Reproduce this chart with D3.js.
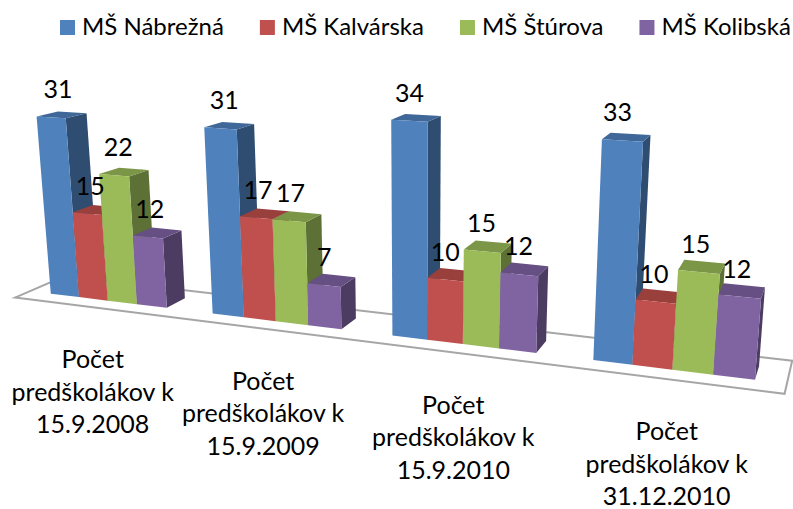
<!DOCTYPE html>
<html>
<head>
<meta charset="utf-8">
<script src="https://cdn.jsdelivr.net/npm/d3@7"></script>
<style>
  body { margin: 0; background: #fff; }
  text { font-family: Lato, "Open Sans", sans-serif; fill: #000; }
</style>
</head>
<body>
<div id="chart"></div>
<script>
const categories = [
  ["Počet", "predškolákov k", "15.9.2008"],
  ["Počet", "predškolákov k", "15.9.2009"],
  ["Počet", "predškolákov k", "15.9.2010"],
  ["Počet", "predškolákov k", "31.12.2010"]
];
const seriesNames = ["MŠ Nábrežná", "MŠ Kalvárska", "MŠ Štúrova", "MŠ Kolibská"];
const nabrezna = [31, 31, 34, 33];
const kalvarska = [15, 17, 10, 10];
const sturova = [22, 17, 15, 15];
const kolibska = [12, 7, 12, 12];

const seriesValues = [nabrezna, kalvarska, sturova, kolibska];
const front = ["#4F81BD", "#C0504D", "#9BBB59", "#8064A2"];
const top3d = ["#3F6797", "#99403D", "#7C9647", "#664F82"];
const side = ["#2F4D71", "#733230", "#5D7035", "#4C3C61"];

const width = 793, height = 509;

const svg = d3.select("#chart").append("svg")
  .attr("width", width)
  .attr("height", height);

// world units: x = bar widths, y = value scaled, z = bar depth (0 front, 1 back)
const x0 = d3.scaleBand()
  .domain(d3.range(categories.length))
  .range([0, 22])
  .paddingInner(1.5 / 5.5)
  .paddingOuter(0.75 / 5.5);

const x1 = d3.scaleBand()
  .domain(d3.range(seriesNames.length))
  .range([0, x0.bandwidth()]);

const y = d3.scaleLinear().domain([0, 35]).range([0, 1]);

// camera matrix the excel 3d view works out to
const cam = [
  [27.30678, -17.43602, 21.80167, 29.96666],
  [0.7461698, -203.5788, -2.005618, 291.1276],
  [-0.009021403, -0.04173816, 0.02441033, 1]
];

function project(X, Y, Z) {
  const w = cam[2][0] * X + cam[2][1] * Y + cam[2][2] * Z + cam[2][3];
  return [
    (cam[0][0] * X + cam[0][1] * Y + cam[0][2] * Z + cam[0][3]) / w,
    (cam[1][0] * X + cam[1][1] * Y + cam[1][2] * Z + cam[1][3]) / w
  ];
}

const poly = d3.line().curve(d3.curveLinearClosed);

// floor
const floorFront = -0.7, floorBack = 1.7;
svg.append("path")
  .attr("d", poly([
    project(0, 0, floorFront),
    project(22, 0, floorFront),
    project(22, 0, floorBack),
    project(0, 0, floorBack)
  ]))
  .attr("fill", "#fff")
  .attr("stroke", "#A6A6A6")
  .attr("stroke-width", 2);

// bars, left to right so each one covers the side of the previous
categories.forEach((cat, c) => {
  seriesValues.forEach((vals, s) => {
    const a = x0(c) + x1(s);
    const b = a + x1.bandwidth();
    const h = y(vals[c]);
    const g = svg.append("g");

    g.append("path")
      .attr("d", poly([project(b, 0, 0), project(b, 0, 1), project(b, h, 1), project(b, h, 0)]))
      .attr("fill", side[s]);
    g.append("path")
      .attr("d", poly([project(a, h, 0), project(b, h, 0), project(b, h, 1), project(a, h, 1)]))
      .attr("fill", top3d[s]);
    g.append("path")
      .attr("d", poly([project(a, 0, 0), project(b, 0, 0), project(b, h, 0), project(a, h, 0)]))
      .attr("fill", front[s]);
  });
});

// value labels go on top of every bar: y from the bar top, x from its middle
categories.forEach((cat, c) => {
  seriesValues.forEach((vals, s) => {
    const mid = x0(c) + x1(s) + x1.bandwidth() / 2;
    const px = project(mid, y(vals[c]) / 2, 0)[0];
    const py = project(mid, y(vals[c]), 0)[1];
    svg.append("text")
      .attr("x", px)
      .attr("y", py - 19)
      .attr("text-anchor", "middle")
      .style("font-size", "25px")
      .text(vals[c]);
  });
});

// category labels hang under the front edge of the floor
categories.forEach((cat, c) => {
  const [px, py] = project(x0(c) + x0.bandwidth() / 2, 0, floorFront);
  const t = svg.append("text")
    .attr("text-anchor", "middle")
    .style("font-size", "25px");
  cat.forEach((line, i) => {
    t.append("tspan")
      .attr("x", px - 1)
      .attr("y", py + 61 + i * 32.5)
      .text(line);
  });
});

// legend, flowed by text width
let lx = 60;
seriesNames.forEach((name, s) => {
  svg.append("rect")
    .attr("x", lx)
    .attr("y", 20)
    .attr("width", 15)
    .attr("height", 15)
    .attr("fill", front[s]);
  const t = svg.append("text")
    .attr("x", lx + 22)
    .attr("y", 35)
    .style("font-size", "24px")
    .text(name);
  lx += 22 + t.node().getComputedTextLength() + 36;
});
</script>
</body>
</html>
